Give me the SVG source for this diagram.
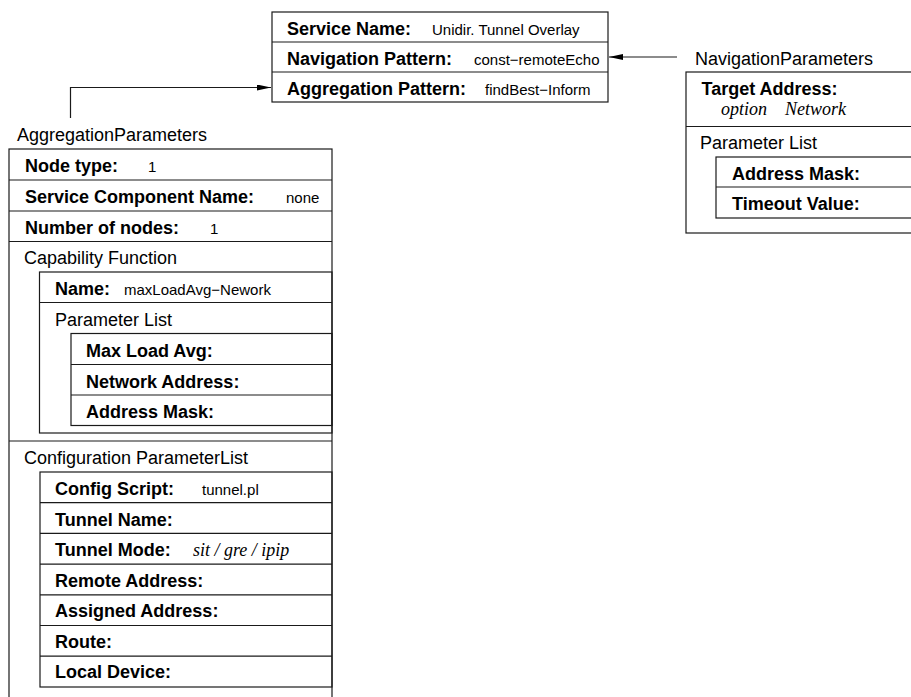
<svg xmlns="http://www.w3.org/2000/svg" width="911" height="697" viewBox="0 0 911 697">
<style>
  .box { fill: none; stroke: #1a1a1a; stroke-width: 1.2; }
  .ln { stroke: #1a1a1a; stroke-width: 1.2; fill: none; }
  .b { font-family: "Liberation Sans", Arial, sans-serif; font-weight: bold; font-size: 18px; fill: #000; }
  .r { font-family: "Liberation Sans", Arial, sans-serif; font-size: 18px; fill: #000; }
  .v { font-family: "Liberation Sans", Arial, sans-serif; font-size: 15px; fill: #000; }
  .i { font-family: "Liberation Serif", "Times New Roman", serif; font-style: italic; font-size: 18px; fill: #000; }
  .conn { stroke: #1a1a1a; stroke-width: 1.2; fill: none; marker-end: url(#arrow); }
</style>
<defs>
  <marker id="arrow" markerUnits="userSpaceOnUse" markerWidth="15" markerHeight="8" refX="14" refY="3" orient="auto">
    <path d="M0,0 L14,3 L0,6 z" fill="#000"/>
  </marker>
</defs>
<rect width="911" height="697" fill="#fff"/>

<g id="service">
  <rect class="box" x="272" y="12" width="336" height="90"/>
  <line class="ln" x1="272" y1="42" x2="608" y2="42"/>
  <line class="ln" x1="272" y1="72" x2="608" y2="72"/>
  <text class="b" x="287" y="34.5">Service Name:</text>
  <text class="v" x="432" y="34.5">Unidir. Tunnel Overlay</text>
  <text class="b" x="287" y="64.5">Navigation Pattern:</text>
  <text class="v" x="474" y="64.5">const−remoteEcho</text>
  <text class="b" x="287" y="94.5">Aggregation Pattern:</text>
  <text class="v" x="485" y="94.5">findBest−Inform</text>
</g>

<g id="navigation-parameters">
  <text class="r" x="695" y="65">NavigationParameters</text>
  <rect class="box" x="686" y="72" width="240" height="161"/>
  <text class="b" x="701.5" y="95">Target Address:</text>
  <text class="i" x="721" y="115">option</text>
  <text class="i" x="785" y="115">Network</text>
  <line class="ln" x1="686" y1="126.5" x2="911" y2="126.5"/>
  <text class="r" x="700" y="148.5">Parameter List</text>
  <g id="nav-parameter-list">
    <rect class="box" x="716" y="157" width="210" height="61"/>
    <line class="ln" x1="716" y1="187" x2="911" y2="187"/>
    <text class="b" x="732" y="179.5">Address Mask:</text>
    <text class="b" x="732" y="210">Timeout Value:</text>
  </g>
</g>

<g id="aggregation-parameters">
  <text class="r" x="17" y="141">AggregationParameters</text>
  <rect class="box" x="9" y="149" width="323" height="570"/>
  <line class="ln" x1="9" y1="180" x2="332" y2="180"/>
  <line class="ln" x1="9" y1="211" x2="332" y2="211"/>
  <line class="ln" x1="9" y1="241.5" x2="332" y2="241.5"/>
  <text class="b" x="25" y="171.5">Node type:</text>
  <text class="v" x="148" y="171.5">1</text>
  <text class="b" x="25" y="202.5">Service Component Name:</text>
  <text class="v" x="286" y="202.5">none</text>
  <text class="b" x="25" y="233.5">Number of nodes:</text>
  <text class="v" x="210" y="233.5">1</text>
  <text class="r" x="24" y="264">Capability Function</text>

  <g id="capability-function">
    <rect class="box" x="39.5" y="272" width="292.5" height="161"/>
    <line class="ln" x1="39.5" y1="302.5" x2="332" y2="302.5"/>
    <text class="b" x="55" y="295">Name:</text>
    <text class="v" x="124" y="295">maxLoadAvg−Nework</text>
    <text class="r" x="55" y="325.5">Parameter List</text>
    <g id="capability-parameter-list">
      <rect class="box" x="71" y="333.5" width="261" height="92"/>
      <line class="ln" x1="71" y1="364.5" x2="332" y2="364.5"/>
      <line class="ln" x1="71" y1="395" x2="332" y2="395"/>
      <text class="b" x="86" y="356.5">Max Load Avg:</text>
      <text class="b" x="86" y="387.5">Network Address:</text>
      <text class="b" x="86" y="418">Address Mask:</text>
    </g>
  </g>

  <line class="ln" x1="9" y1="441" x2="332" y2="441"/>
  <text class="r" x="24" y="463.5">Configuration ParameterList</text>

  <g id="configuration-parameter-list">
    <rect class="box" x="40" y="472" width="292" height="215"/>
    <line class="ln" x1="40" y1="502.7" x2="332" y2="502.7"/>
    <line class="ln" x1="40" y1="533.4" x2="332" y2="533.4"/>
    <line class="ln" x1="40" y1="564.1" x2="332" y2="564.1"/>
    <line class="ln" x1="40" y1="594.8" x2="332" y2="594.8"/>
    <line class="ln" x1="40" y1="625.5" x2="332" y2="625.5"/>
    <line class="ln" x1="40" y1="656.2" x2="332" y2="656.2"/>
    <text class="b" x="55" y="495">Config Script:</text>
    <text class="v" x="202" y="495">tunnel.pl</text>
    <text class="b" x="55" y="525.7">Tunnel Name:</text>
    <text class="b" x="55" y="556.4">Tunnel Mode:</text>
    <text class="i" x="193" y="556.4">sit / gre / ipip</text>
    <text class="b" x="55" y="587">Remote Address:</text>
    <text class="b" x="55" y="617">Assigned Address:</text>
    <text class="b" x="55" y="647.6">Route:</text>
    <text class="b" x="55" y="678">Local Device:</text>
  </g>
</g>

<g id="connectors">
  <polyline class="conn" points="70.5,118 70.5,87.5 271,87.5"/>
  <line class="conn" x1="677" y1="57" x2="609" y2="57"/>
</g>
</svg>
